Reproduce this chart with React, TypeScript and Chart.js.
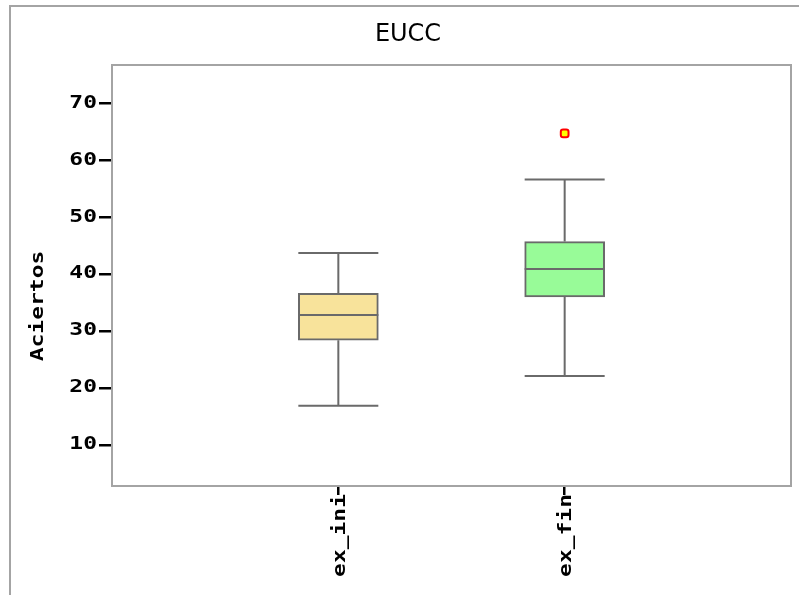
import React, { useEffect, useRef } from "react";
import { Chart, registerables } from "chart.js";

Chart.register(...registerables);

const title = "EUCC";
const yAxisTitle = "Aciertos";
const categories = ["ex_ini", "ex_fin"];
const whiskerLow = [16.9, 22.1];
const q1 = [28.4, 36.0];
const median = [32.8, 40.9];
const q3 = [36.6, 45.7];
const whiskerHigh = [43.7, 56.6];
const outlierCategory = [2];
const outlierValue = [64.7];
const yTicks = [10, 20, 30, 40, 50, 60, 70];
const boxColors = ["#f8e39b", "#98fb98"];

const LINE = "#6a6a6a";
const FRAME = "#a4a4a4";
const MONO = 'bold 17px "DejaVu Sans Mono"';
const STRETCH = 1.35;

function stretchedText(ctx: CanvasRenderingContext2D, text: string, x: number, y: number, angle: number, align: CanvasTextAlign) {
  ctx.save();
  ctx.translate(x, y);
  ctx.rotate(angle);
  ctx.scale(STRETCH, 1);
  ctx.font = MONO;
  ctx.fillStyle = "#000";
  ctx.textAlign = align;
  ctx.textBaseline = "middle";
  ctx.fillText(text, 0, 0);
  ctx.restore();
}

const boxPlugin = {
  id: "boxDecor",
  beforeDraw(chart: any) {
    const ctx = chart.ctx;
    ctx.save();
    ctx.strokeStyle = FRAME;
    ctx.lineWidth = 2;
    ctx.beginPath();
    ctx.moveTo(10, 595);
    ctx.lineTo(10, 6);
    ctx.lineTo(799, 6);
    ctx.stroke();
    ctx.restore();
  },
  afterDatasetsDraw(chart: any) {
    const ctx = chart.ctx;
    const xs = chart.scales.x;
    const ys = chart.scales.y;
    const meta = chart.getDatasetMeta(0);
    ctx.save();
    ctx.strokeStyle = LINE;
    ctx.lineWidth = 2;
    categories.forEach((c, i) => {
      const x = xs.getPixelForValue(i + 1);
      const half = meta.data[i] ? meta.data[i].width / 2 : 40;
      const yl = ys.getPixelForValue(whiskerLow[i]);
      const yq1 = ys.getPixelForValue(q1[i]);
      const ym = ys.getPixelForValue(median[i]);
      const yq3 = ys.getPixelForValue(q3[i]);
      const yh = ys.getPixelForValue(whiskerHigh[i]);
      ctx.beginPath();
      ctx.moveTo(x, yq3);
      ctx.lineTo(x, yh);
      ctx.moveTo(x, yq1);
      ctx.lineTo(x, yl);
      ctx.moveTo(x - half, yh);
      ctx.lineTo(x + half, yh);
      ctx.moveTo(x - half, yl);
      ctx.lineTo(x + half, yl);
      ctx.moveTo(x - half, ym);
      ctx.lineTo(x + half, ym);
      ctx.stroke();
    });
    ctx.restore();
  },
  afterDraw(chart: any) {
    const ctx = chart.ctx;
    const area = chart.chartArea;
    const xs = chart.scales.x;
    const ys = chart.scales.y;
    ctx.save();
    ctx.strokeStyle = FRAME;
    ctx.lineWidth = 2;
    ctx.strokeRect(area.left, area.top, area.right - area.left, area.bottom - area.top);
    ctx.restore();

    ctx.save();
    ctx.font = '24px "DejaVu Sans"';
    ctx.fillStyle = "#000";
    ctx.textAlign = "center";
    ctx.textBaseline = "middle";
    ctx.fillText(title, 408, 35);
    ctx.restore();

    ys.ticks.forEach((t: any) => {
      stretchedText(ctx, String(t.value), area.left - 15, ys.getPixelForValue(t.value), 0, "right");
    });
    xs.ticks.forEach((t: any) => {
      const label = categories[t.value - 1];
      if (label) stretchedText(ctx, label, xs.getPixelForValue(t.value) + 2, area.bottom + 8, -Math.PI / 2, "right");
    });
    stretchedText(ctx, yAxisTitle, 39, 306, -Math.PI / 2, "center");
  },
};

export default function App() {
  const ref = useRef<HTMLCanvasElement>(null);
  useEffect(() => {
    if (!ref.current) return;
    const chart = new Chart(ref.current, {
      type: "bar",
      data: {
        datasets: [
          {
            type: "bar",
            data: categories.map((c, i) => ({ x: i + 1, y: [q1[i], q3[i]] })) as any,
            backgroundColor: boxColors,
            borderColor: LINE,
            borderWidth: 2,
            borderSkipped: false,
            barThickness: 80,
          } as any,
          {
            type: "scatter",
            data: outlierCategory.map((c, i) => ({ x: c, y: outlierValue[i] })),
            pointStyle: "rectRounded",
            radius: 4.5,
            borderWidth: 2,
            borderColor: "#ff0000",
            backgroundColor: "#ffff00",
            showLine: false,
          } as any,
        ],
      },
      options: {
        responsive: false,
        devicePixelRatio: 1,
        animation: false,
        layout: { padding: { top: 65, right: 8, left: 0, bottom: 0 } },
        plugins: { legend: { display: false }, tooltip: { enabled: false }, title: { display: false } },
        scales: {
          x: {
            type: "linear",
            min: 0,
            max: 3,
            offset: false,
            afterBuildTicks: (s: any) => {
              s.ticks = categories.map((c, i) => ({ value: i + 1 }));
            },
            afterFit: (s: any) => {
              s.height = 109;
            },
            grid: { offset: false, drawOnChartArea: false, drawTicks: true, tickLength: 9, color: "#000", lineWidth: 2.5 },
            border: { display: false },
            ticks: { display: false },
          },
          y: {
            type: "linear",
            min: 2.8,
            max: 76.7,
            afterBuildTicks: (s: any) => {
              s.ticks = yTicks.map((v) => ({ value: v }));
            },
            afterFit: (s: any) => {
              s.width = 112;
            },
            grid: { drawOnChartArea: false, drawTicks: true, tickLength: 13, color: "#000", lineWidth: 2.5 },
            border: { display: false },
            ticks: { display: false },
          },
        },
      } as any,
      plugins: [boxPlugin],
    });
    return () => chart.destroy();
  }, []);
  return (
    <div style={{ position: "absolute", left: 0, top: 0, width: 799, height: 595, background: "#fff" }}>
      <canvas ref={ref} width={799} height={595} style={{ display: "block", width: 799, height: 595 }} />
    </div>
  );
}
